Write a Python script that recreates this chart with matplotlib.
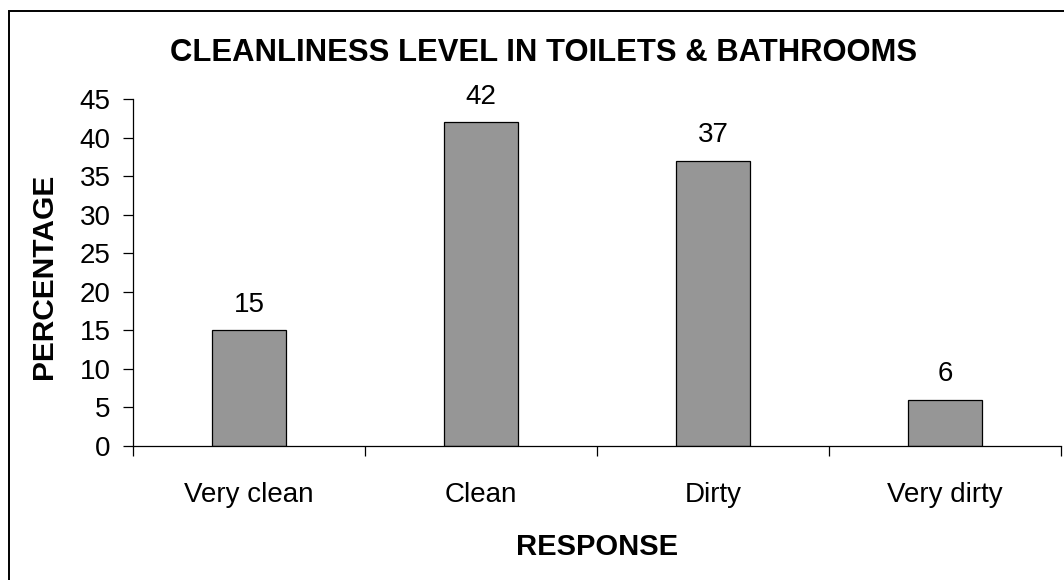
import matplotlib.pyplot as plt
from matplotlib.patches import Rectangle
import numpy as np

plt.rcParams['font.family'] = ['Liberation Sans', 'DejaVu Sans']

# Data
categories = ['Very clean', 'Clean', 'Dirty', 'Very dirty']
percentages = [15, 42, 37, 6]
y_ticks = [0, 5, 10, 15, 20, 25, 30, 35, 40, 45]

fig = plt.figure(figsize=(10.64, 5.8), dpi=100)
fig.patch.set_facecolor('white')

# outer chart frame (only left and top edges are visible in the crop)
fig.add_artist(Rectangle((9 / 1064, -0.1), 1.2, 1 - 11 / 580 + 0.1,
                         transform=fig.transFigure, fill=False,
                         edgecolor='black', linewidth=1.4))

ax = fig.add_axes([0.125, 0.231, 0.872, 0.598])
x = np.arange(len(categories))
bars = ax.bar(x, percentages, width=0.32, color='#969696',
              edgecolor='black', linewidth=0.9)
ax.bar_label(bars, labels=[str(v) for v in percentages], padding=9, fontsize=20)

ax.set_xlim(-0.5, len(categories) - 0.5)
ax.set_ylim(0, 45)
ax.set_yticks(y_ticks)
ax.set_xticks(x)
ax.set_xticklabels(categories)
ax.set_xticks(np.arange(len(categories) + 1) - 0.5, minor=True)

ax.tick_params(axis='x', which='major', length=0, pad=26, labelsize=20)
ax.tick_params(axis='x', which='minor', length=7, width=0.9, direction='out')
ax.tick_params(axis='y', length=7, width=0.9, direction='out', pad=9, labelsize=20)

for side in ['top', 'right']:
    ax.spines[side].set_visible(False)
for side in ['left', 'bottom']:
    ax.spines[side].set_linewidth(0.9)

ax.set_ylabel('PERCENTAGE', fontsize=21.5, fontweight='bold')
ax.yaxis.set_label_coords(-0.081, 0.49)
ax.set_xlabel('RESPONSE', fontsize=21, fontweight='bold')
ax.xaxis.set_label_coords(0.5, -0.251)

fig.text(0.511, 0.909, 'CLEANLINESS LEVEL IN TOILETS & BATHROOMS',
         ha='center', va='center', fontsize=22.3, fontweight='bold')

fig.savefig('out.png', dpi=100, facecolor='white')
